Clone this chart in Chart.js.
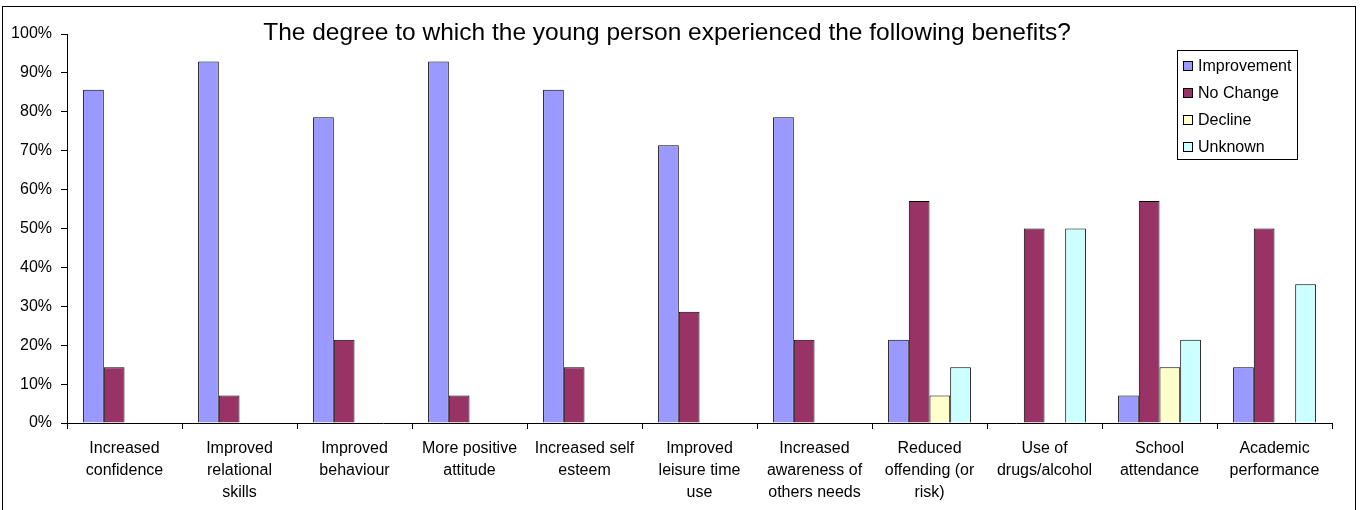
<!DOCTYPE html>
<html>
<head>
<meta charset="utf-8">
<script src="https://cdn.jsdelivr.net/npm/chart.js@4/dist/chart.umd.min.js"></script>
<style>
  html, body { margin: 0; padding: 0; background: #fff; }
  #wrap { width: 1363px; height: 510px; position: relative; }
</style>
</head>
<body>
<div id="wrap"><canvas id="chart" width="1363" height="510"></canvas></div>
<script>
// Benefits reported for each young person, as a percentage of cases
const categories = [
  ['Increased', 'confidence'],
  ['Improved', 'relational', 'skills'],
  ['Improved', 'behaviour'],
  ['More positive', 'attitude'],
  ['Increased self', 'esteem'],
  ['Improved', 'leisure time', 'use'],
  ['Increased', 'awareness of', 'others needs'],
  ['Reduced', 'offending (or', 'risk)'],
  ['Use of', 'drugs/alcohol'],
  ['School', 'attendance'],
  ['Academic', 'performance']
];
const improvement = [85.7, 92.9, 78.6, 92.9, 85.7, 71.4, 78.6, 21.4, 0, 7.1, 14.3];
const noChange    = [14.3, 7.1, 21.4, 7.1, 14.3, 28.6, 21.4, 57.1, 50, 57.1, 50];
const decline     = [0, 0, 0, 0, 0, 0, 0, 7.1, 0, 14.3, 0];
const unknown     = [0, 0, 0, 0, 0, 0, 0, 14.3, 50, 21.4, 35.7];
const seriesNames = ['Improvement', 'No Change', 'Decline', 'Unknown'];
const yTicks = [0, 10, 20, 30, 40, 50, 60, 70, 80, 90, 100];
const titleText = 'The degree to which the young person experienced the following benefits?';

const FONT = '"Liberation Sans", Arial, sans-serif';
const colors = ['#9999FF', '#993366', '#FFFFCC', '#CCFFFF'];

function makeSet(label, data, color) {
  return {
    label: label,
    data: data,
    backgroundColor: color,
    borderColor: '#000',
    borderWidth: ctx => (ctx.raw ? 1 : 0),
    borderSkipped: 'bottom',
    categoryPercentage: 0.72,
    barPercentage: 1.0
  };
}

// Frame, title and boxed legend drawn over the plot
const decorations = {
  id: 'decorations',
  afterDraw(chart) {
    const c = chart.ctx;
    c.save();
    // outer frame
    c.strokeStyle = '#000';
    c.lineWidth = 1;
    c.strokeRect(2.5, 6.5, 1353, 510);
    // title
    c.fillStyle = '#000';
    c.font = '24.5px ' + FONT;
    c.textAlign = 'center';
    c.textBaseline = 'alphabetic';
    c.fillText(titleText, 667, 40);
    // legend box
    const lx = 1177, ly = 50, lw = 120, lh = 109;
    c.fillStyle = '#fff';
    c.fillRect(lx + 0.5, ly + 0.5, lw, lh);
    c.strokeRect(lx + 0.5, ly + 0.5, lw, lh);
    c.font = '16px ' + FONT;
    c.textAlign = 'left';
    c.textBaseline = 'middle';
    chart.data.datasets.forEach((ds, i) => {
      const cy = 66 + i * 27;
      c.fillStyle = ds.backgroundColor;
      c.fillRect(1183.5, cy - 4.5, 9, 9);
      c.strokeStyle = '#000';
      c.strokeRect(1183.5, cy - 4.5, 9, 9);
      c.fillStyle = '#000';
      c.fillText(ds.label, 1198, cy + 1);
    });
    c.restore();
  }
};

new Chart(document.getElementById('chart'), {
  type: 'bar',
  data: {
    labels: categories,
    datasets: [
      makeSet(seriesNames[0], improvement, colors[0]),
      makeSet(seriesNames[1], noChange, colors[1]),
      makeSet(seriesNames[2], decline, colors[2]),
      makeSet(seriesNames[3], unknown, colors[3])
    ]
  },
  options: {
    responsive: false,
    animation: false,
    devicePixelRatio: 1,
    layout: { padding: { top: 34, right: 31, left: 0, bottom: 0 } },
    plugins: {
      legend: { display: false },
      title: { display: false },
      tooltip: { enabled: false }
    },
    scales: {
      x: {
        afterFit(scale) { scale.height = 87; },
        grid: { display: true, drawOnChartArea: false, tickLength: 6, color: '#000', offset: true },
        border: { display: true, color: '#000', width: 1 },
        ticks: {
          color: '#000',
          font: { family: FONT, size: 16, lineHeight: 1.375 },
          maxRotation: 0,
          autoSkip: false,
          padding: 9
        }
      },
      y: {
        min: 0,
        max: 100,
        afterFit(scale) { scale.width = 67; },
        afterBuildTicks(scale) { scale.ticks = yTicks.map(v => ({ value: v })); },
        grid: { display: true, drawOnChartArea: false, tickLength: 6, color: '#000' },
        border: { display: true, color: '#000', width: 1 },
        ticks: {
          color: '#000',
          font: { family: FONT, size: 16 },
          padding: 9,
          callback: v => v + '%'
        }
      }
    }
  },
  plugins: [decorations]
});
</script>
</body>
</html>
